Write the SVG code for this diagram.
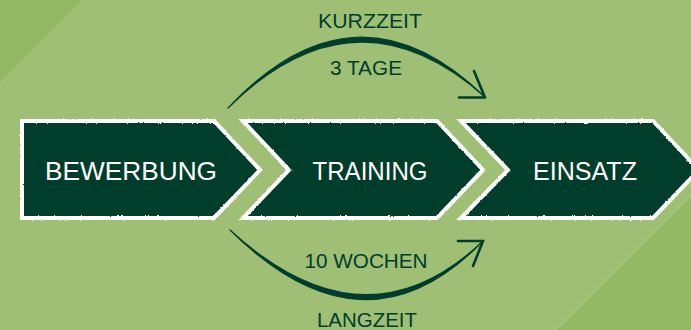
<svg xmlns="http://www.w3.org/2000/svg" width="691" height="330" viewBox="0 0 691 330">
<defs>
<style>
.bg{fill:#9fbf75}
.bgd{fill:#93b863}
.node{fill:#013d2c;stroke:#ffffff;stroke-width:4;stroke-linejoin:miter}
.ntxt{font-family:"Liberation Sans",Arial,sans-serif;font-size:25px;fill:#ffffff;text-anchor:middle}
.lbl{font-family:"Liberation Sans",Arial,sans-serif;font-size:20px;fill:#013d2c;text-anchor:middle}
.arc{fill:#013d2c;stroke:#013d2c;stroke-width:1.2;stroke-linejoin:round}
.head{fill:none;stroke:#013d2c;stroke-width:2.6;stroke-linecap:round}
</style>
<filter id="rough" x="-5%" y="-5%" width="110%" height="110%">
<feTurbulence type="fractalNoise" baseFrequency="0.6" numOctaves="2" seed="3" result="n"/>
<feDisplacementMap in="SourceGraphic" in2="n" scale="2.2" xChannelSelector="R" yChannelSelector="G"/>
</filter>
</defs>
<rect class="bg" x="0" y="0" width="691" height="330"/>
<polygon class="bgd" points="0,0 83,0 0,82"/>
<polygon class="bgd" points="556,330 691,330 691,195"/>
<line x1="556" y1="330" x2="691" y2="195" stroke="#a7c47f" stroke-width="1.5"/>

<g id="node-bewerbung">
<path class="node" filter="url(#rough)" d="M22,121 L214,121 L260,170 L214,218 L22,218 Z"/>
<text class="ntxt" x="131" y="180" textLength="172" lengthAdjust="spacingAndGlyphs">BEWERBUNG</text>
</g>
<g id="node-training">
<path class="node" filter="url(#rough)" d="M243,121 L437,121 L483,170 L437,218 L243,218 L289,170 Z"/>
<text class="ntxt" x="370" y="180" textLength="115" lengthAdjust="spacingAndGlyphs">TRAINING</text>
</g>
<g id="node-einsatz">
<path class="node" filter="url(#rough)" d="M461,121 L653,121 L699,170 L653,218 L461,218 L508,170 Z"/>
<text class="ntxt" x="585" y="180" textLength="104" lengthAdjust="spacingAndGlyphs">EINSATZ</text>
</g>

<g id="connectors">
<path class="arc" d="M228,108 Q355.5,-28 485,97 Q355.5,-18 228,108 Z"/>
<path class="head" d="M474,71 L485,97.5 M459,97.5 L485,97.5"/>
<path class="arc" d="M230,230 Q364,363 482,242 Q364,353 230,230 Z"/>
<path class="head" d="M458,241 L483,241 L473,266"/>
</g>

<g id="labels">
<text class="lbl" x="370" y="28" textLength="104" lengthAdjust="spacingAndGlyphs">KURZZEIT</text>
<text class="lbl" x="366" y="75" textLength="72" lengthAdjust="spacingAndGlyphs">3 TAGE</text>
<text class="lbl" x="366" y="268" textLength="123" lengthAdjust="spacingAndGlyphs">10 WOCHEN</text>
<text class="lbl" x="367" y="327" textLength="100" lengthAdjust="spacingAndGlyphs">LANGZEIT</text>
</g>
</svg>
